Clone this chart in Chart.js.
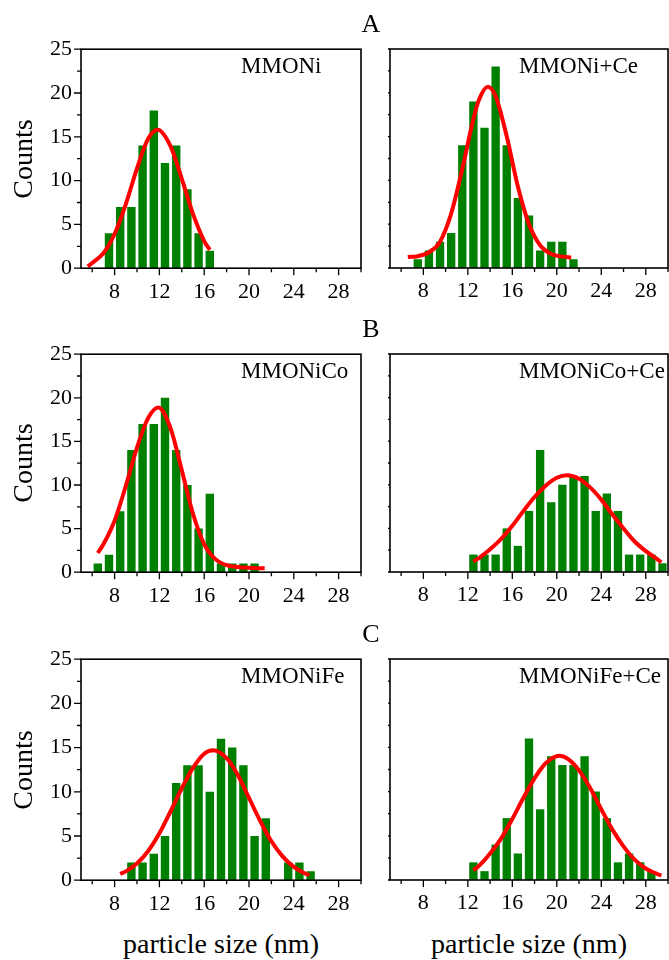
<!DOCTYPE html>
<html>
<head>
<meta charset="utf-8">
<script src="https://cdn.jsdelivr.net/npm/chart.js@4.4.1/dist/chart.umd.min.js"></script>
<style>
  body { margin: 0; background: #fff; width: 669px; height: 960px; position: relative; overflow: hidden;
         font-family: "Liberation Serif", "Times New Roman", serif; }
  canvas { position: absolute; }
  .t { position: absolute; white-space: nowrap; line-height: 1; color: #000; }
</style>
</head>
<body>
<script>
// ---- data ----
const rowLetters = ['A', 'B', 'C'];
const panelNames = ['MMONi', 'MMONi+Ce', 'MMONiCo', 'MMONiCo+Ce', 'MMONiFe', 'MMONiFe+Ce'];
const xTickValues = [8, 12, 16, 20, 24, 28];
const xMinorValues = [6, 10, 14, 18, 22, 26, 30];
const yTickValues = [0, 5, 10, 15, 20, 25];
const yMinorValues = [2.5, 7.5, 12.5, 17.5, 22.5];

const niSizes = [7.5, 8.5, 9.5, 10.5, 11.5, 12.5, 13.5, 14.5, 15.5, 16.5];
const niCounts = [4, 7, 7, 14, 18, 12, 14, 9, 4, 2];
const niFitX = [5.6, 6, 7, 8, 9, 10, 11, 11.85, 13, 14, 15, 16, 16.5];
const niFitY = [0.2, 0.6, 1.7, 3.9, 7.3, 11.4, 14.8, 15.8, 13.9, 10.2, 6.2, 3.1, 2.1];

const niCeSizes = [7.5, 8.5, 9.5, 10.5, 11.5, 12.5, 13.5, 14.5, 15.5, 16.5, 17.5, 18.5, 19.5, 20.5, 21.5];
const niCeCounts = [1, 2, 3, 4, 14, 19, 16, 23, 14, 8, 6, 2, 3, 3, 1];
const niCeFitX = [6.6, 7.5, 8.5, 9.5, 10.5, 11.5, 12.5, 13, 13.8, 14.5, 15.5, 16.5, 17.5, 18.5, 19.5, 20.5, 21.3];
const niCeFitY = [1.25, 1.35, 1.8, 3.0, 6.2, 11.3, 17.0, 19.2, 20.7, 19.6, 15.0, 9.3, 5.0, 2.6, 1.6, 1.3, 1.2];

const niCoSizes = [6.5, 7.5, 8.5, 9.5, 10.5, 11.5, 12.5, 13.5, 14.5, 15.5, 16.5, 17.5, 18.5, 19.5, 20.5];
const niCoCounts = [1, 2, 7, 14, 17, 17, 20, 14, 10, 5, 9, 1, 1, 1, 1];
const niCoFitX = [6.5, 7, 8, 9, 10, 11, 11.9, 13, 14, 15, 16, 17, 18, 19, 20, 21.4];
const niCoFitY = [2.2, 3.2, 5.9, 9.9, 14.3, 17.7, 18.9, 16.5, 11.7, 6.7, 3.2, 1.5, 0.8, 0.6, 0.5, 0.45];

const niCoCeSizes = [12.5, 13.5, 14.5, 15.5, 16.5, 17.5, 18.5, 19.5, 20.5, 21.5, 22.5, 23.5, 24.5, 25.5, 26.5, 27.5, 28.5, 29.5];
const niCoCeCounts = [2, 2, 2, 5, 3, 7, 14, 8, 10, 11, 11, 7, 9, 7, 2, 2, 2, 1];
const niCoCeFitX = [12.5, 13, 14, 15, 16, 17, 18, 19, 20, 20.9, 22, 23, 24, 25, 26, 27, 28, 29, 29.4];
const niCoCeFitY = [1.2, 1.6, 2.6, 3.8, 5.3, 7.0, 8.6, 9.9, 10.8, 11.1, 10.7, 9.7, 8.3, 6.6, 5.0, 3.5, 2.4, 1.5, 1.1];

const niFeSizes = [9.5, 10.5, 11.5, 12.5, 13.5, 14.5, 15.5, 16.5, 17.5, 18.5, 19.5, 20.5, 21.5, 22.5, 23.5, 24.5, 25.5];
const niFeCounts = [2, 2, 3, 5, 11, 13, 13, 10, 16, 15, 13, 5, 7, 0, 2, 2, 1];
const niFeFitX = [8.5, 9, 10, 11, 12, 13, 14, 15, 16, 16.8, 18, 19, 20, 21, 22, 23, 24, 25, 25.4];
const niFeFitY = [0.7, 1.0, 1.9, 3.3, 5.3, 7.8, 10.4, 12.7, 14.3, 14.7, 13.8, 11.9, 9.3, 6.7, 4.4, 2.7, 1.5, 0.75, 0.56];

const niFeCeSizes = [12.5, 13.5, 14.5, 15.5, 16.5, 17.5, 18.5, 19.5, 20.5, 21.5, 22.5, 23.5, 24.5, 25.5, 26.5, 27.5, 28.5];
const niFeCeCounts = [2, 1, 4, 7, 3, 16, 8, 14, 13, 13, 14, 10, 7, 2, 3, 2, 1];
const niFeCeFitX = [12.5, 13, 14, 15, 16, 17, 18, 19, 20.24, 21, 22, 23, 24, 25, 26, 27, 28, 29, 29.4];
const niFeCeFitY = [1.1, 1.6, 3.0, 4.7, 6.9, 9.3, 11.5, 13.2, 14.05, 13.7, 12.4, 10.4, 8.0, 5.7, 3.8, 2.3, 1.3, 0.7, 0.5];

const panelData = [
  [niSizes, niCounts, niFitX, niFitY],
  [niCeSizes, niCeCounts, niCeFitX, niCeFitY],
  [niCoSizes, niCoCounts, niCoFitX, niCoFitY],
  [niCoCeSizes, niCoCeCounts, niCoCeFitX, niCoCeFitY],
  [niFeSizes, niFeCounts, niFeFitX, niFeFitY],
  [niFeCeSizes, niFeCeCounts, niFeCeFitX, niFeCeFitY]
];

// ---- layout (plot area edges in page pixels) ----
const rows = [{ top: 49, bottom: 268 }, { top: 354, bottom: 572 }, { top: 659, bottom: 880 }];
const cols = [{ canvasLeft: 0, axisW: 81, width: 363, padR: 2, labelX: 241 },
              { canvasLeft: 388, axisW: 2, width: 281, padR: 1, labelX: 519 }];
const PAD_TOP = 10, XAXIS_H = 40;
const FONT = '"Liberation Serif", "Times New Roman", serif';

// frame + outward tick marks, major and minor
const frameTicks = {
  id: 'frameTicks',
  afterDraw(chart) {
    const { ctx, chartArea: a, scales: { x, y } } = chart;
    ctx.save();
    ctx.strokeStyle = '#000';
    ctx.lineWidth = 1.3;
    ctx.beginPath();
    xTickValues.forEach(v => { const p = x.getPixelForValue(v); ctx.moveTo(p, a.bottom); ctx.lineTo(p, a.bottom + 7); });
    xMinorValues.forEach(v => { const p = x.getPixelForValue(v); ctx.moveTo(p, a.bottom); ctx.lineTo(p, a.bottom + 4); });
    yTickValues.forEach(v => { const p = y.getPixelForValue(v); ctx.moveTo(a.left, p); ctx.lineTo(a.left - 7, p); });
    yMinorValues.forEach(v => { const p = y.getPixelForValue(v); ctx.moveTo(a.left, p); ctx.lineTo(a.left - 4, p); });
    ctx.stroke();
    ctx.lineWidth = 1.6;
    ctx.strokeRect(a.left, a.top, a.right - a.left, a.bottom - a.top);
    ctx.restore();
  }
};

function addText(txt, left, top, size, extra) {
  const d = document.createElement('div');
  d.className = 't';
  d.textContent = txt;
  d.style.cssText += `left:${left}px;top:${top}px;font-size:${size}px;` + (extra || '');
  document.body.appendChild(d);
}

panelData.forEach((p, i) => {
  const r = rows[Math.floor(i / 2)], c = cols[i % 2];
  const [sizes, counts, fitX, fitY] = p;
  const cv = document.createElement('canvas');
  const h = (r.bottom - r.top) + PAD_TOP + XAXIS_H;
  cv.width = c.width; cv.height = h;
  cv.style.left = c.canvasLeft + 'px';
  cv.style.top = (r.top - PAD_TOP) + 'px';
  document.body.appendChild(cv);

  const chart = new Chart(cv.getContext('2d'), {
    type: 'bar',
    data: {
      datasets: [{
        type: 'line',
        order: 0,
        data: fitX.map((x, k) => ({ x: x, y: fitY[k] })),
        borderColor: '#ff0000',
        borderWidth: 4,
        pointRadius: 0,
        cubicInterpolationMode: 'monotone',
        fill: false
      }, {
        type: 'bar',
        order: 1,
        data: sizes.map((x, k) => ({ x: x, y: counts[k] })),
        backgroundColor: '#008000',
        barPercentage: 0.75,
        categoryPercentage: 1.0
      }]
    },
    plugins: [frameTicks],
    options: {
      responsive: false,
      maintainAspectRatio: false,
      animation: false,
      events: [],
      layout: { padding: { top: PAD_TOP, right: c.padR, left: 0, bottom: 0 } },
      plugins: { legend: { display: false }, tooltip: { enabled: false } },
      scales: {
        x: {
          type: 'linear',
          min: 5,
          max: 30,
          offset: false,
          grid: { display: false, drawTicks: false, offset: false },
          border: { display: false },
          afterBuildTicks: s => { s.ticks = xTickValues.map(v => ({ value: v })); },
          afterFit: s => { s.height = XAXIS_H; },
          ticks: { padding: 10.5, maxRotation: 0, autoSkip: false, color: '#000', font: { family: FONT, size: 22 } }
        },
        y: {
          min: 0,
          max: 25,
          grid: { display: false, drawTicks: false },
          border: { display: false },
          afterFit: s => { s.width = c.axisW; },
          ticks: { display: i % 2 === 0, stepSize: 5, padding: 9, color: '#000', font: { family: FONT, size: 22 } }
        }
      }
    }
  });

  // tick labels can push the plot area down; shift and grow the canvas to keep the frame in place
  const extra = chart.chartArea.top - PAD_TOP;
  if (extra !== 0) {
    cv.style.top = (r.top - chart.chartArea.top) + 'px';
    chart.resize(c.width, h + extra);
  }

  // panel label inside the frame
  addText(panelNames[i], c.labelX, r.top + 24 - 19.3, 23);
});

// row letters, y titles, x titles
rows.forEach((r, k) => {
  addText(rowLetters[k], 371 - 100, r.top - 16 - 21.8, 26, 'width:200px;text-align:center;');
  addText('Counts', 23 - 70, (r.top + r.bottom) / 2 - 14, 28, 'width:140px;height:28px;text-align:center;transform:rotate(-90deg);');
});
addText('particle size (nm)', 221 - 150, 929.5, 28, 'width:300px;text-align:center;');
addText('particle size (nm)', 529 - 150, 929.5, 28, 'width:300px;text-align:center;');
</script>
</body>
</html>
